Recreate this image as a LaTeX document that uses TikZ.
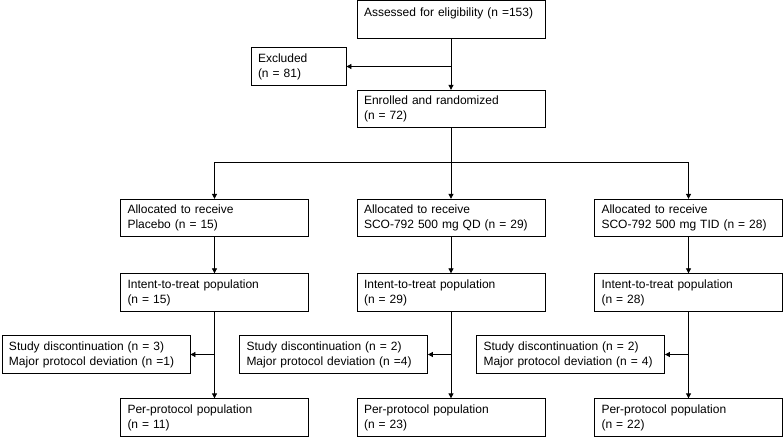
\documentclass[tikz,border=0pt]{standalone}
\usepackage{fontspec}
\setmainfont{Liberation Sans}
\usetikzlibrary{arrows.meta}
\begin{document}
\begin{tikzpicture}[x=1pt,y=-1pt,
  box/.style={draw, line width=0.8pt, rectangle, minimum height=37.5pt, inner sep=0pt,
    text width=#1-14pt, minimum width=#1, align=left,
    font=\fontsize{12}{15}\selectfont},
  box/.default=188pt,
  conn/.style={line width=0.8pt, -{Triangle[length=5pt,width=5pt]}},
  plain/.style={line width=0.8pt}]
\useasboundingbox (0,0) rectangle (784,438);
\node[box] (assess) at (451,19.5) {Assessed for eligibility (n =153)\\\mbox{}};
\node[box=95pt] (excl) at (298.5,66.5) {Excluded\\(n = 81)};
\node[box] (enrol) at (451,109) {Enrolled and randomized\\(n = 72)};
\node[box] (allocA) at (214.5,218) {Allocated to receive\\Placebo (n = 15)};
\node[box] (allocB) at (451,218) {Allocated to receive\\SCO-792 500 mg QD (n = 29)};
\node[box] (allocC) at (688.5,218) {Allocated to receive\\SCO-792 500 mg TID (n = 28)};
\node[box] (ittA) at (214.5,292.5) {Intent-to-treat population\\(n = 15)};
\node[box] (ittB) at (451,292.5) {Intent-to-treat population\\(n = 29)};
\node[box] (ittC) at (688.5,292.5) {Intent-to-treat population\\(n = 28)};
\node[box] (discA) at (96,354.5) {Study discontinuation (n = 3)\\Major protocol deviation (n =1)};
\node[box] (discB) at (333.5,354.5) {Study discontinuation (n = 2)\\Major protocol deviation (n =4)};
\node[box] (discC) at (570.5,354.5) {Study discontinuation (n = 2)\\Major protocol deviation (n = 4)};
\node[box] (ppA) at (214.5,417.5) {Per-protocol population\\(n = 11)};
\node[box] (ppB) at (451,417.5) {Per-protocol population\\(n = 23)};
\node[box] (ppC) at (688.5,417.5) {Per-protocol population\\(n = 22)};
% top
\draw[conn] (assess) -- (enrol);
\draw[conn] (assess.south |- excl.east) -- (excl.east);
% branch
\coordinate (br) at (451,162.5);
\draw[plain] (enrol.south) -- (br);
\draw[conn] (br) -- (allocB.north);
\draw[conn] (br) -| (allocA.north);
\draw[conn] (br) -| (allocC.north);
% columns
\draw[conn] (allocA) -- (ittA);
\draw[conn] (allocB) -- (ittB);
\draw[conn] (allocC) -- (ittC);
\draw[conn] (ittA) -- (ppA);
\draw[conn] (ittB) -- (ppB);
\draw[conn] (ittC) -- (ppC);
\draw[conn] (ittA.south |- discA.east) -- (discA.east);
\draw[conn] (ittB.south |- discB.east) -- (discB.east);
\draw[conn] (ittC.south |- discC.east) -- (discC.east);
\end{tikzpicture}
\end{document}
